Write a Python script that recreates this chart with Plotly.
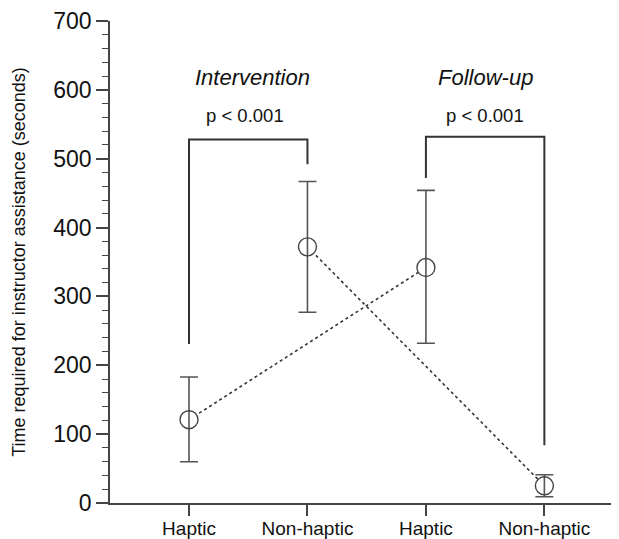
import plotly.graph_objects as go

categories = ["Haptic", "Non-haptic", "Haptic", "Non-haptic"]
positions = [1, 2, 3, 4]
means = [121, 372, 342, 25]
upper = [183, 467, 454, 41]
lower = [60, 277, 232, 9]

# dotted connections (Haptic -> Haptic, Non-haptic -> Non-haptic)
link_a = [0, 2]
link_b = [1, 3]

bracket1_x = [1, 1, 2, 2]
bracket1_y = [231, 528, 528, 492]
bracket2_x = [3, 3, 4, 4]
bracket2_y = [472, 532, 532, 84]

periods = ["Intervention", "Follow-up"]
period_x = [1.536, 3.50]
pvals = ["p < 0.001", "p < 0.001"]
pval_x = [1.469, 3.495]

FONT = "Liberation Sans, Arial, sans-serif"
fig = go.Figure()

for link in (link_a, link_b):
    fig.add_trace(go.Scatter(
        x=[positions[i] for i in link], y=[means[i] for i in link],
        mode="lines", line=dict(color="#333333", width=1.6, dash="dot"),
        hoverinfo="skip", showlegend=False))

# white-filled circles to hide dotted line inside markers
fig.add_trace(go.Scatter(
    x=positions, y=means, mode="markers",
    marker=dict(symbol="circle", size=18, color="white", line=dict(width=0)),
    hoverinfo="skip", showlegend=False))

fig.add_trace(go.Scatter(
    x=positions, y=means, mode="markers",
    marker=dict(symbol="circle-open", size=18, color="#444444", line=dict(width=1.4)),
    error_y=dict(type="data", symmetric=False,
                 array=[u - m for u, m in zip(upper, means)],
                 arrayminus=[m - l for m, l in zip(means, lower)],
                 color="#555555", thickness=1.6, width=9),
    showlegend=False))

for bx, by in ((bracket1_x, bracket1_y), (bracket2_x, bracket2_y)):
    fig.add_trace(go.Scatter(
        x=bx, y=by, mode="lines", line=dict(color="#333333", width=2),
        hoverinfo="skip", showlegend=False))

for t, xx in zip(periods, period_x):
    fig.add_annotation(x=xx, y=618, text=f"<i>{t}</i>", showarrow=False,
                       font=dict(family=FONT, size=22, color="#111111"))
for t, xx in zip(pvals, pval_x):
    fig.add_annotation(x=xx, y=563, text=t, showarrow=False,
                       font=dict(family=FONT, size=18.5, color="#111111"))

# page body has an 8px margin; compensate so the figure fills the window like the reference
fig.update_layout(
    width=611, height=531,
    margin=dict(l=102, r=0, t=13, b=29),
    paper_bgcolor="white", plot_bgcolor="white",
    font=dict(family=FONT, color="#111111"),
)
fig.update_xaxes(
    range=[0.333, 4.63], tickmode="array", tickvals=positions, ticktext=categories,
    showgrid=False, zeroline=False, showline=True, linecolor="#444444", linewidth=1.6,
    ticks="outside", ticklen=11, tickwidth=1.6, tickcolor="#444444",
    ticklabelstandoff=-4,
    tickfont=dict(family=FONT, size=19, color="#111111"))
fig.update_yaxes(
    range=[0, 700], tickvals=[0, 100, 200, 300, 400, 500, 600, 700],
    showgrid=False, zeroline=False, showline=True, linecolor="#444444", linewidth=1.6,
    ticks="outside", ticklen=12, tickwidth=1.6, tickcolor="#444444",
    minor=dict(dtick=20, ticks="outside", ticklen=6, tickwidth=1.2, tickcolor="#444444", showgrid=False),
    tickfont=dict(family=FONT, size=23, color="#111111"),
    title=dict(text="Time required for instructor assistance (seconds)",
               font=dict(family=FONT, size=18, color="#111111"), standoff=23))

fig.write_html("out.html")
